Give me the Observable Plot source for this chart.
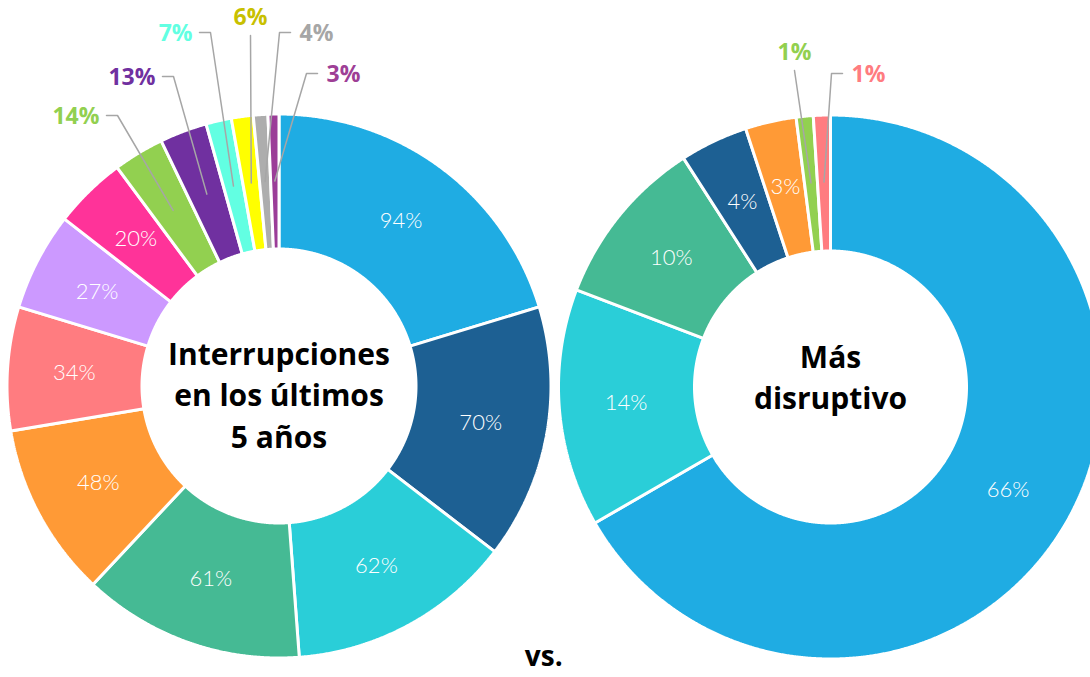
<!DOCTYPE html>
<html>
<head>
<meta charset="utf-8">
<script src="https://cdn.jsdelivr.net/npm/d3@7"></script>
<script src="https://cdn.jsdelivr.net/npm/@observablehq/plot@0.6"></script>
<style>
  html, body { margin: 0; padding: 0; background: #ffffff; overflow: hidden; }
</style>
</head>
<body>
<div id="chart"></div>
<script>
// ---------------- DATA ----------------
// Left donut: "Interrupciones en los últimos 5 años" (percent of respondents)
const leftValues = [94, 70, 62, 61, 48, 34, 27, 20, 14, 13, 7, 6, 4, 3];
const leftColors = ["#1FACE3", "#1D6093", "#2ACED8", "#45BA94", "#FF9A36", "#FF7C80", "#CC99FF",
                    "#FF3399", "#92D050", "#7030A0", "#62FFE2", "#FFFF00", "#ADADAD", "#9B3D98"];
const leftLabelColors = ["#FFFFFF", "#FFFFFF", "#FFFFFF", "#FFFFFF", "#FFFFFF", "#FFFFFF", "#FFFFFF",
                         "#FFFFFF", "#92D050", "#7030A0", "#62FFE2", "#C8C000", "#A6A6A6", "#9E3F96"];
// Right donut: "Más disruptivo"
const rightValues = [66, 14, 10, 4, 3, 1, 1];
const rightColors = ["#1FACE3", "#2ACED8", "#45BA94", "#1D6093", "#FF9A36", "#92D050", "#FF7C80"];
const rightLabelColors = ["#FFFFFF", "#FFFFFF", "#FFFFFF", "#FFFFFF", "#FFFFFF", "#92D050", "#FF7C80"];

const leftTitle = "Interrupciones\nen los últimos\n5 años";
const rightTitle = "Más\ndisruptivo";
const middleText = "vs.";

// ---------------- LAYOUT ----------------
const W = 1090, H = 677;
const leftLayout = {cx: 278.5, cy: 385.5, r0: 137, r1: 272, rLabel: 205, titleY: 392.5};
const rightLayout = {cx: 830, cy: 386.5, r0: 136, r1: 272, rLabel: 205, titleY: 375};
// callout elbows (offset from donut centre) and which side the label sits on
const leftCallouts = [
  {i: 8,  dx: -161.5, dy: -270.5, side: "left"},
  {i: 9,  dx: -105.5, dy: -309.5, side: "left"},
  {i: 10, dx: -68.5,  dy: -353.5, side: "left"},
  {i: 11, dx: -28.5,  dy: -350.5, side: "up"},
  {i: 12, dx: 0.5,    dy: -353.5, side: "right"},
  {i: 13, dx: 27.5,   dy: -312.5, side: "right"}
];
const rightCallouts = [
  {i: 5, dx: -36, dy: -316.5, side: "up"},
  {i: 6, dx: 1,   dy: -313.5, side: "right"}
];

// ---------------- BUILD ----------------
const slicePts = [];
const innerLabels = [];
const outLabels = [];
const leaderPts = [];

function buildDonut(name, values, colors, labelColors, L, callouts) {
  const arcs = d3.pie().sort(null).value(d => d)(values);
  const px = (r, a) => L.cx + r * Math.sin(a);
  const py = (r, a) => L.cy - r * Math.cos(a);
  arcs.forEach((arc, k) => {
    const id = name + k;
    const a0 = arc.startAngle, a1 = arc.endAngle;
    const n = Math.max(2, Math.ceil((a1 - a0) / (Math.PI / 720)));
    for (let j = 0; j <= n; j++) {
      const a = a0 + (a1 - a0) * j / n;
      slicePts.push({id, x: px(L.r1, a), y: py(L.r1, a), color: colors[k]});
    }
    for (let j = n; j >= 0; j--) {
      const a = a0 + (a1 - a0) * j / n;
      slicePts.push({id, x: px(L.r0, a), y: py(L.r0, a), color: colors[k]});
    }
    const mid = (a0 + a1) / 2;
    const c = callouts.find(d => d.i === k);
    const text = values[k] + "%";
    if (!c) {
      innerLabels.push({x: px(L.rLabel, mid), y: py(L.rLabel, mid), text});
    } else {
      const ex = L.cx + c.dx, ey = L.cy + c.dy;
      const lid = "l" + id;
      leaderPts.push({id: lid, x: px(L.rLabel, mid), y: py(L.rLabel, mid)});
      leaderPts.push({id: lid, x: ex, y: ey});
      if (c.side === "left") {
        leaderPts.push({id: lid, x: ex - 11, y: ey});
        outLabels.push({x: ex - 18, y: ey + 1, text, color: labelColors[k], side: "left"});
      } else if (c.side === "right") {
        leaderPts.push({id: lid, x: ex + 11, y: ey});
        outLabels.push({x: ex + 20, y: ey + 1, text, color: labelColors[k], side: "right"});
      } else {
        outLabels.push({x: ex, y: ey - 18, text, color: labelColors[k], side: "up"});
      }
    }
  });
}
buildDonut("L", leftValues, leftColors, leftLabelColors, leftLayout, leftCallouts);
buildDonut("R", rightValues, rightColors, rightLabelColors, rightLayout, rightCallouts);

const titles = [
  {x: leftLayout.cx, y: leftLayout.titleY, text: leftTitle},
  {x: rightLayout.cx, y: rightLayout.titleY, text: rightTitle}
];
const vsLabel = [{x: (leftLayout.cx + rightLayout.cx) / 2 - 11, y: 657, text: middleText}];

const FONT = "'Open Sans', Lato, sans-serif";

const chart = Plot.plot({
  width: W,
  height: H,
  margin: 0,
  x: {domain: [0, W], range: [0, W], axis: null},
  y: {domain: [0, H], range: [0, H], axis: null},
  color: {type: "identity"},
  style: {background: "#ffffff", overflow: "hidden", fontFamily: FONT},
  marks: [
    Plot.line(slicePts, {x: "x", y: "y", z: "id", fill: "color", stroke: "#ffffff",
      strokeWidth: 3, curve: "linear-closed", strokeLinejoin: "miter"}),
    Plot.line(leaderPts, {x: "x", y: "y", z: "id", stroke: "#A6A6A6", strokeWidth: 1.5}),
    Plot.text(innerLabels, {x: "x", y: "y", text: "text", fill: "#ffffff", fontSize: 22,
      fontWeight: 300, fontFamily: "Lato, 'Open Sans', sans-serif"}),
    Plot.text(outLabels.filter(d => d.side === "left"), {x: "x", y: "y", text: "text", fill: "color",
      textAnchor: "end", fontSize: 23, fontWeight: "bold", fontFamily: FONT}),
    Plot.text(outLabels.filter(d => d.side === "right"), {x: "x", y: "y", text: "text", fill: "color",
      textAnchor: "start", fontSize: 23, fontWeight: "bold", fontFamily: FONT}),
    Plot.text(outLabels.filter(d => d.side === "up"), {x: "x", y: "y", text: "text", fill: "color",
      textAnchor: "middle", fontSize: 23, fontWeight: "bold", fontFamily: FONT}),
    Plot.text(titles, {x: "x", y: "y", text: "text", fill: "#000000", fontSize: 30,
      fontWeight: "bold", lineHeight: 1.38, fontFamily: FONT}),
    Plot.text(vsLabel, {x: "x", y: "y", text: "text", fill: "#000000", fontSize: 28,
      fontWeight: "bold", fontFamily: FONT})
  ]
});
document.getElementById("chart").appendChild(chart);
</script>
</body>
</html>
